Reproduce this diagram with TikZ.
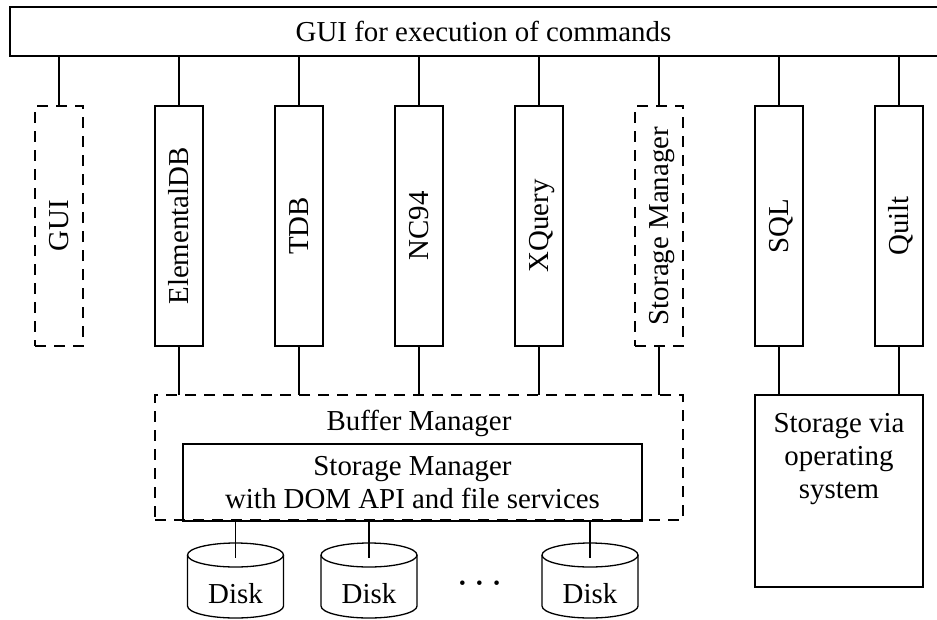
\documentclass[tikz,border=0pt]{standalone}
\usepackage{fontspec}
\setmainfont{Liberation Serif}
\begin{document}
\begin{tikzpicture}[x=1pt,y=-1pt,
  every node/.style={font=\fontsize{28.9}{33}\selectfont, inner sep=0pt, outer sep=0pt},
  solidbox/.style={draw, line width=2pt},
  dashbox/.style={draw, line width=2pt, dash pattern=on 11pt off 8pt},
  link/.style={line width=1.8pt},
  diskline/.style={line width=1.3pt},
  vlabel/.style={rotate=90, anchor=base},
  column/.style={minimum width=48pt, minimum height=240pt}]
\useasboundingbox (0,0) rectangle (937,619);
\clip (0,0) rectangle (937,619);

% command bar across the top
\node[solidbox, minimum width=947pt, minimum height=49pt] (bar) at (483.5,31.5) {GUI for execution of commands};

% query / command modules
\node[column, dashbox]  (gui)   at (59,226)  {};
\node[column, solidbox] (edb)   at (179,226) {};
\node[column, solidbox] (tdb)   at (299,226) {};
\node[column, solidbox] (nc)    at (419,226) {};
\node[column, solidbox] (xq)    at (539,226) {};
\node[column, dashbox]  (smc)   at (659,226) {};
\node[column, solidbox] (sql)   at (779,226) {};
\node[column, solidbox] (quilt) at (899,226) {};

\node[vlabel] (gui-t)   at (68,226)  {GUI};
\node[vlabel] (edb-t)   at (188,226) {ElementalDB};
\node[vlabel] (tdb-t)   at (308,226) {TDB};
\node[vlabel] (nc-t)    at (428,226) {NC94};
\node[vlabel] (xq-t)    at (548,226) {XQuery};
\node[vlabel] (smc-t)   at (668,226) {Storage Manager};
\node[vlabel] (sql-t)   at (788,226) {SQL};
\node[vlabel] (quilt-t) at (908,226) {Quilt};

% buffer manager with the storage manager inside
\node[dashbox, minimum width=528pt, minimum height=125pt] (buf) at (419,457.5) {};
\node[anchor=base] (buf-t) at (419,430) {Buffer Manager};
\node[solidbox, minimum width=459pt, minimum height=77pt, align=center] (sm) at (412.5,482.5)
  {Storage Manager\\with DOM API and file services};

% operating system storage
\node[solidbox, minimum width=168pt, minimum height=192pt] (os) at (839,491) {};
\node[align=center, anchor=north] (os-t) at (839,413) {Storage via\\operating\\system};

% connectors
\foreach \c in {gui,edb,tdb,nc,xq,smc,sql,quilt}
  \draw[link] (\c.north |- bar.south) -- (\c.north);
\foreach \c in {edb,tdb,nc,xq,smc}
  \draw[link] (\c.south) -- (\c.south |- buf.north);
\foreach \c in {sql,quilt}
  \draw[link] (\c.south) -- (\c.south |- os.north);

% disks
\foreach \i/\x in {1/235.5,2/369,3/590} {
  \draw[diskline] (\x,555) ellipse [x radius=48pt, y radius=12pt];
  \draw[diskline] (\x-48,555) -- (\x-48,606)
    arc[start angle=180, end angle=360, x radius=48pt, y radius=12pt] -- (\x+48,555);
  \node[anchor=base] (disk\i) at (\x,603) {Disk};
  \coordinate (dtop\i) at (\x,558);
  \draw[link] (dtop\i |- sm.south) -- (dtop\i);
}
\node (dots) at (479.5,585) {\fontsize{19}{19}\selectfont\textbullet\hspace{10.5pt}\textbullet\hspace{10.5pt}\textbullet};
\end{tikzpicture}
\end{document}
